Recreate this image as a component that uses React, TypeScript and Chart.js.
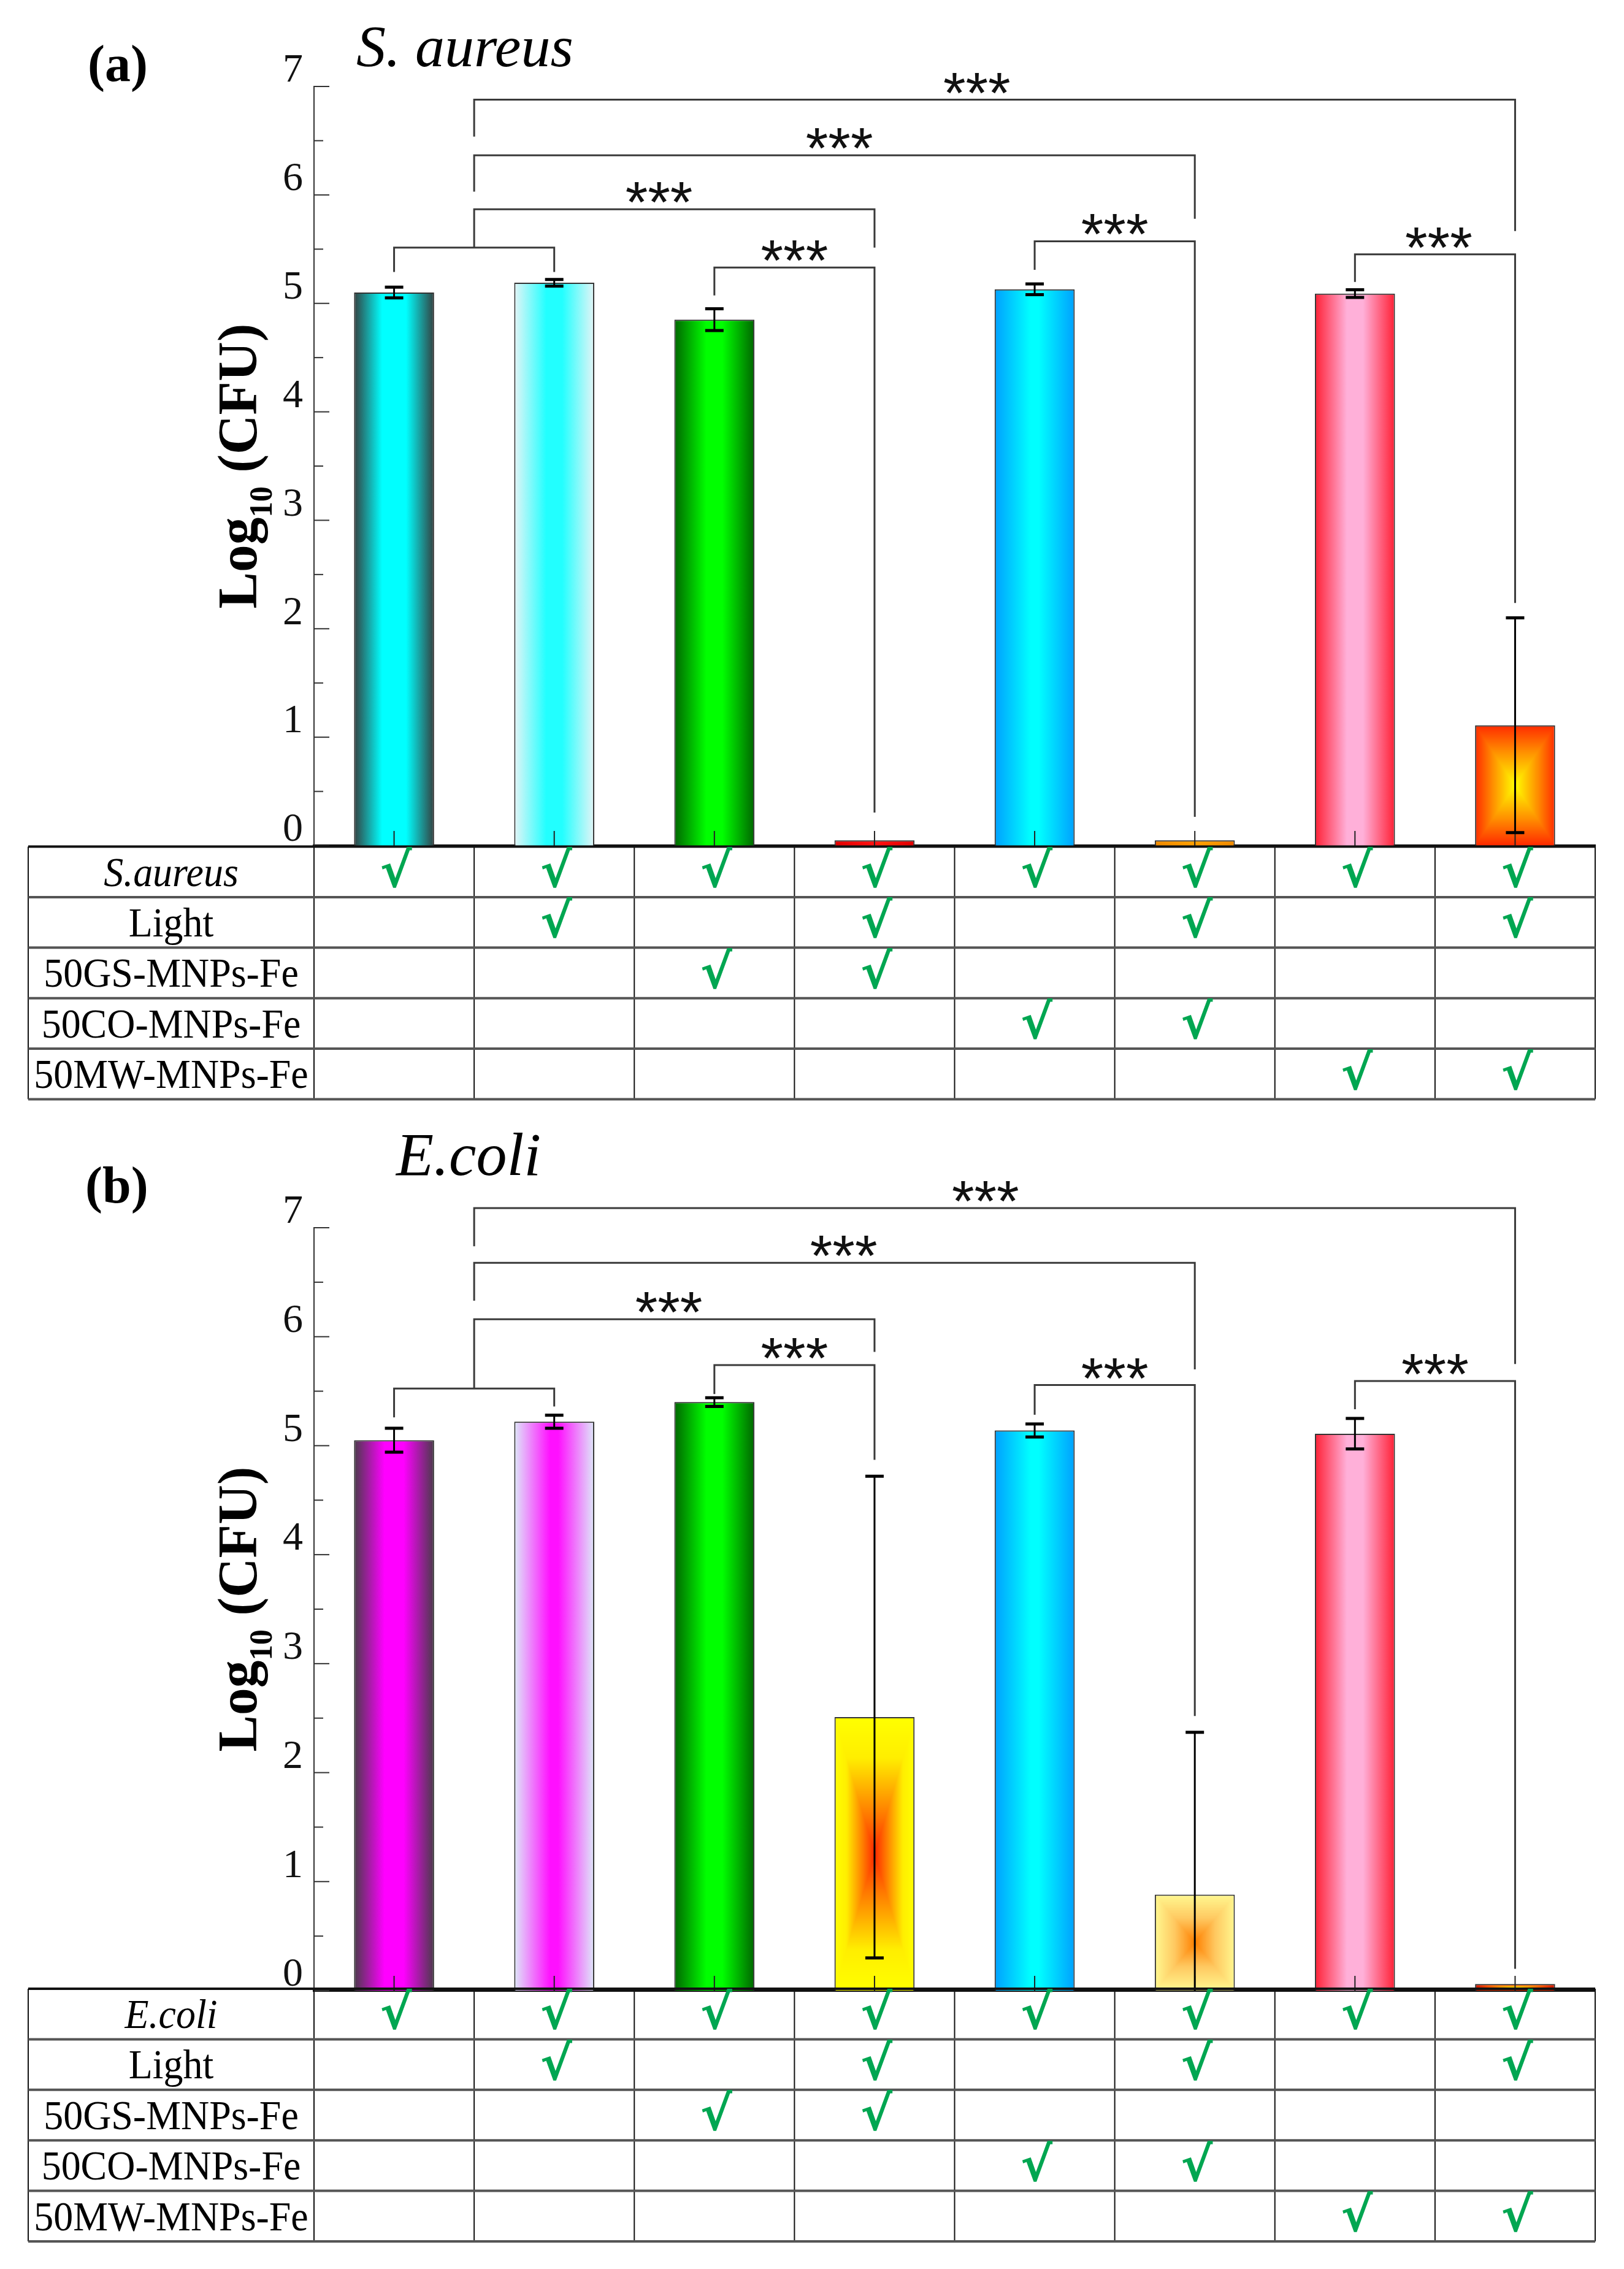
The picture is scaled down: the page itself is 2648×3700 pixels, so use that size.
import React, { useEffect, useRef } from 'react';
import { Chart, registerables } from 'chart.js';

Chart.register(...registerables);

// ---------------- data ----------------
const treatmentGroups = [
  'Bacteria',
  'Bacteria + Light',
  'Bacteria + 50GS-MNPs-Fe',
  'Bacteria + 50GS-MNPs-Fe + Light',
  'Bacteria + 50CO-MNPs-Fe',
  'Bacteria + 50CO-MNPs-Fe + Light',
  'Bacteria + 50MW-MNPs-Fe',
  'Bacteria + 50MW-MNPs-Fe + Light',
];
const yTickValues = [0, 1, 2, 3, 4, 5, 6, 7];

const saureusLog = [5.10, 5.19, 4.85, 0.05, 5.13, 0.05, 5.09, 1.11];
const saureusSd = [0.05, 0.03, 0.10, 0, 0.05, 0, 0.035, 0.99];
const ecoliLog = [5.05, 5.22, 5.40, 2.51, 5.14, 0.88, 5.11, 0.06];
const ecoliSd = [0.11, 0.06, 0.04, 2.21, 0.06, 1.49, 0.14, 0];

const tableRowLabels = ['Light', '50GS-MNPs-Fe', '50CO-MNPs-Fe', '50MW-MNPs-Fe'];
const bacteriaRow = [1, 1, 1, 1, 1, 1, 1, 1];
const lightRow = [0, 1, 0, 1, 0, 1, 0, 1];
const gsRow = [0, 0, 1, 1, 0, 0, 0, 0];
const coRow = [0, 0, 0, 0, 1, 1, 0, 0];
const mwRow = [0, 0, 0, 0, 0, 0, 1, 1];
const checkRows = [bacteriaRow, lightRow, gsRow, coRow, mwRow];

// significance brackets (group index; 0.5 = pooled controls), levels in log10 units
const saureusBrackets = [
  { from: 0, to: 1, level: 5.515, leftEnd: 5.29, rightEnd: 5.29, label: '', labelDx: 0 },
  { from: 0.5, to: 3, level: 5.868, leftEnd: 5.515, rightEnd: 5.515, label: '***', labelDx: -25 },
  { from: 2, to: 3, level: 5.33, leftEnd: 5.074, rightEnd: 0.305, label: '***', labelDx: 0 },
  { from: 0.5, to: 5, level: 6.365, leftEnd: 6.03, rightEnd: 5.78, label: '***', labelDx: 8 },
  { from: 4, to: 5, level: 5.573, leftEnd: 5.31, rightEnd: 0.266, label: '***', labelDx: 0 },
  { from: 0.5, to: 7, level: 6.878, leftEnd: 6.538, rightEnd: 5.667, label: '***', labelDx: -29 },
  { from: 6, to: 7, level: 5.452, leftEnd: 5.198, rightEnd: 2.237, label: '***', labelDx: 6 },
];
const ecoliBrackets = [
  { from: 0, to: 1, level: 5.525, leftEnd: 5.26, rightEnd: 5.36, label: '', labelDx: 0 },
  { from: 0.5, to: 3, level: 6.16, leftEnd: 5.525, rightEnd: 5.86, label: '***', labelDx: -9 },
  { from: 2, to: 3, level: 5.74, leftEnd: 5.474, rightEnd: 4.87, label: '***', labelDx: 0 },
  { from: 0.5, to: 5, level: 6.678, leftEnd: 6.33, rightEnd: 5.70, label: '***', labelDx: 15 },
  { from: 4, to: 5, level: 5.556, leftEnd: 5.284, rightEnd: 2.52, label: '***', labelDx: 0 },
  { from: 0.5, to: 7, level: 7.18, leftEnd: 6.83, rightEnd: 5.75, label: '***', labelDx: -15 },
  { from: 6, to: 7, level: 5.593, leftEnd: 5.334, rightEnd: 0.2, label: '***', labelDx: 0 },
];

// ---------------- styles ----------------
type Stop = [number, string];
type FillSpec = { kind: 'h' | 'rect'; stops: Stop[] };

const greenFill: FillSpec = { kind: 'h', stops: [[0, '#006600'], [0.4, '#00ff00'], [0.6, '#00ff00'], [1, '#006600']] };
const blueFill: FillSpec = { kind: 'h', stops: [[0, '#00a0ff'], [0.45, '#00ffff'], [0.55, '#00ffff'], [1, '#00a0ff']] };
const pinkFill: FillSpec = { kind: 'h', stops: [[0, '#ff2035'], [0.4, '#ffb0d9'], [0.6, '#ffb0d9'], [1, '#ff2035']] };

const saureusFills: FillSpec[] = [
  { kind: 'h', stops: [[0, '#334040'], [0.35, '#00ffff'], [0.65, '#00ffff'], [1, '#334040']] },
  { kind: 'h', stops: [[0, '#e4f4f6'], [0.4, '#22ffff'], [0.6, '#22ffff'], [1, '#e4f4f6']] },
  greenFill,
  { kind: 'h', stops: [[0, '#e00000'], [0.5, '#ff1010'], [1, '#e00000']] },
  blueFill,
  { kind: 'h', stops: [[0, '#f08a00'], [0.5, '#ffa000'], [1, '#f08a00']] },
  pinkFill,
  { kind: 'rect', stops: [[0, '#ffff00'], [0.55, '#ff9000'], [1, '#ff2a00']] },
];
const ecoliFills: FillSpec[] = [
  { kind: 'h', stops: [[0, '#4a3a4a'], [0.38, '#ff00ff'], [0.62, '#ff00ff'], [1, '#4a3a4a']] },
  { kind: 'h', stops: [[0, '#dde8f8'], [0.45, '#ff10ff'], [0.55, '#ff10ff'], [1, '#dde8f8']] },
  greenFill,
  { kind: 'rect', stops: [[0, '#ff2800'], [0.35, '#ff8c00'], [0.7, '#ffee00'], [1, '#ffff00']] },
  blueFill,
  { kind: 'rect', stops: [[0, '#ff8000'], [0.5, '#ffc860'], [1, '#fff890']] },
  pinkFill,
  { kind: 'rect', stops: [[0, '#ffee00'], [0.6, '#ff6000'], [1, '#cc1000']] },
];

const BAR_FRACTION = 0.5;
const TABLE_LEFT = 46;
const ROW_H = 82.4;
const SERIF = '"Liberation Serif", "Times New Roman", serif';

function hexToRgb(h: string) {
  const n = parseInt(h.slice(1), 16);
  return [(n >> 16) & 255, (n >> 8) & 255, n & 255];
}

function makeFill(ctx: CanvasRenderingContext2D, spec: FillSpec, left: number, top: number, w: number, h: number): any {
  const mid = spec.stops[Math.floor(spec.stops.length / 2)][1];
  if (![left, top, w, h].every(Number.isFinite) || w <= 0 || h <= 0 || w > 3000 || h > 3000) return mid;
  if (spec.kind === 'h') {
    const g = ctx.createLinearGradient(left, 0, left + w, 0);
    spec.stops.forEach(([t, c]) => g.addColorStop(t, c));
    return g;
  }
  const W = Math.max(1, Math.round(w));
  const H = Math.max(1, Math.round(h));
  const off = document.createElement('canvas');
  off.width = W;
  off.height = H;
  const octx = off.getContext('2d')!;
  const img = octx.createImageData(W, H);
  const rgb = spec.stops.map(([t, c]) => [t, hexToRgb(c)] as [number, number[]]);
  for (let y = 0; y < H; y++) {
    for (let x = 0; x < W; x++) {
      const t = Math.min(1, Math.max(Math.abs(x + 0.5 - W / 2) / (W / 2), Math.abs(y + 0.5 - H / 2) / (H / 2)));
      let k = 0;
      while (k < rgb.length - 2 && t > rgb[k + 1][0]) k++;
      const t0 = rgb[k][0];
      const c0 = rgb[k][1];
      const t1 = rgb[k + 1][0];
      const c1 = rgb[k + 1][1];
      const f = t1 > t0 ? Math.min(1, Math.max(0, (t - t0) / (t1 - t0))) : 0;
      const o = (y * W + x) * 4;
      img.data[o] = c0[0] + (c1[0] - c0[0]) * f;
      img.data[o + 1] = c0[1] + (c1[1] - c0[1]) * f;
      img.data[o + 2] = c0[2] + (c1[2] - c0[2]) * f;
      img.data[o + 3] = 255;
    }
  }
  octx.putImageData(img, 0, 0);
  const p = ctx.createPattern(off, 'no-repeat');
  if (!p) return mid;
  p.setTransform(new DOMMatrix([1, 0, 0, 1, left, top]));
  return p;
}

type Bracket = { from: number; to: number; level: number; leftEnd: number; rightEnd: number; label: string; labelDx: number };
type PanelCfg = {
  top: number;
  height: number;
  padTop: number;
  xAxisHeight: number;
  letter: string;
  letterX: number;
  letterBaseline: number;
  title: string;
  titleX: number;
  titleBaseline: number;
  titleSize: number;
  bacteria: string;
  tableTop: number;
  means: number[];
  sd: number[];
  fills: FillSpec[];
  brackets: Bracket[];
};

const panelA: PanelCfg = {
  top: 0, height: 1830, padTop: 141, xAxisHeight: 451,
  letter: '(a)', letterX: 143, letterBaseline: 132,
  title: 'S. aureus', titleX: 581, titleBaseline: 108, titleSize: 96,
  bacteria: 'S.aureus', tableTop: 1380.5,
  means: saureusLog, sd: saureusSd, fills: saureusFills, brackets: saureusBrackets,
};
const panelB: PanelCfg = {
  top: 1830, height: 1870, padTop: 172, xAxisHeight: 454,
  letter: '(b)', letterX: 139, letterBaseline: 131,
  title: 'E.coli', titleX: 646, titleBaseline: 86, titleSize: 100,
  bacteria: 'E.coli', tableTop: 1413,
  means: ecoliLog, sd: ecoliSd, fills: ecoliFills, brackets: ecoliBrackets,
};

function Panel({ cfg }: { cfg: PanelCfg }) {
  const ref = useRef<HTMLCanvasElement>(null);
  useEffect(() => {
    const canvas = ref.current;
    if (!canvas) return;
    let filled = false;
    const decor = {
      id: 'decor',
      beforeDatasetsDraw(chart: any) {
        if (filled) return;
        const meta = chart.getDatasetMeta(0);
        meta.data.forEach((el: any, i: number) => {
          const p = el.getProps(['x', 'y', 'base', 'width'], true);
          const top = Math.min(p.y, p.base);
          const h = Math.abs(p.base - p.y);
          el.options.backgroundColor = makeFill(chart.ctx, cfg.fills[i], p.x - p.width / 2, top, p.width, h);
        });
        filled = true;
      },
      afterDatasetsDraw(chart: any) {
        const ctx: CanvasRenderingContext2D = chart.ctx;
        const xs = chart.scales.x;
        const ys = chart.scales.y;
        const area = chart.chartArea;
        ctx.save();
        ctx.strokeStyle = '#222';
        ctx.lineWidth = 2;
        treatmentGroups.forEach((_, i) => {
          const x = xs.getPixelForValue(i);
          ctx.beginPath();
          ctx.moveTo(x, area.bottom);
          ctx.lineTo(x, area.bottom - 24);
          ctx.stroke();
        });
        ctx.strokeStyle = '#333';
        for (let k = 0; k < yTickValues.length; k++) {
          const v = yTickValues[k];
          const y = ys.getPixelForValue(v);
          ctx.beginPath();
          ctx.moveTo(area.left, y);
          ctx.lineTo(area.left + 25, y);
          ctx.stroke();
          if (k < yTickValues.length - 1) {
            const ym = ys.getPixelForValue((v + yTickValues[k + 1]) / 2);
            ctx.beginPath();
            ctx.moveTo(area.left, ym);
            ctx.lineTo(area.left + 15, ym);
            ctx.stroke();
          }
        }
        ctx.strokeStyle = '#000';
        cfg.means.forEach((m, i) => {
          const e = cfg.sd[i];
          if (!e) return;
          const x = xs.getPixelForValue(i);
          const yTop = ys.getPixelForValue(m + e);
          const low = m - e;
          const yBot = ys.getPixelForValue(Math.max(0, low));
          ctx.lineWidth = 3;
          ctx.beginPath();
          ctx.moveTo(x, yTop);
          ctx.lineTo(x, yBot);
          ctx.stroke();
          ctx.lineWidth = 5;
          ctx.beginPath();
          ctx.moveTo(x - 15, yTop);
          ctx.lineTo(x + 15, yTop);
          if (low >= 0) {
            ctx.moveTo(x - 15, yBot);
            ctx.lineTo(x + 15, yBot);
          }
          ctx.stroke();
        });
        ctx.restore();
      },
      afterDraw(chart: any) {
        const ctx: CanvasRenderingContext2D = chart.ctx;
        const xs = chart.scales.x;
        const ys = chart.scales.y;
        const area = chart.chartArea;
        ctx.save();
        ctx.strokeStyle = '#3a3a3a';
        ctx.lineWidth = 3;
        ctx.font = `94px "Liberation Sans", Arial, sans-serif`;
        ctx.fillStyle = '#111';
        ctx.textAlign = 'center';
        ctx.textBaseline = 'alphabetic';
        cfg.brackets.forEach((b) => {
          const x1 = xs.getPixelForValue(b.from);
          const x2 = xs.getPixelForValue(b.to);
          const y = ys.getPixelForValue(b.level);
          ctx.beginPath();
          ctx.moveTo(x1, ys.getPixelForValue(b.leftEnd));
          ctx.lineTo(x1, y);
          ctx.lineTo(x2, y);
          ctx.lineTo(x2, ys.getPixelForValue(b.rightEnd));
          ctx.stroke();
          if (b.label) {
            const m = ctx.measureText(b.label);
            const d = Number.isFinite(m.actualBoundingBoxDescent) ? m.actualBoundingBoxDescent : -30;
            ctx.fillText(b.label, (x1 + x2) / 2 + b.labelDx, y - 10 - d);
          }
        });

        ctx.textAlign = 'left';
        ctx.fillStyle = '#000';
        ctx.font = `bold 84px ${SERIF}`;
        ctx.fillText(cfg.letter, cfg.letterX, cfg.letterBaseline);
        ctx.font = `italic ${cfg.titleSize}px ${SERIF}`;
        ctx.fillText(cfg.title, cfg.titleX, cfg.titleBaseline);

        ctx.save();
        ctx.translate(area.left - 94, (area.top + area.bottom) / 2);
        ctx.rotate(-Math.PI / 2);
        const big = `bold 92px ${SERIF}`;
        const small = `bold 52px ${SERIF}`;
        ctx.font = big;
        const w1 = ctx.measureText('Log').width;
        const w3 = ctx.measureText(' (CFU)').width;
        ctx.font = small;
        const w2 = ctx.measureText('10').width;
        const total = w1 + w2 + w3;
        if (total > 0) ctx.scale(465 / total, 1);
        let tx = -total / 2;
        ctx.font = big;
        ctx.fillText('Log', tx, 0);
        tx += w1;
        ctx.font = small;
        ctx.fillText('10', tx, 25);
        tx += w2;
        ctx.font = big;
        ctx.fillText(' (CFU)', tx, 0);
        ctx.restore();

        const t0 = cfg.tableTop;
        const nRows = checkRows.length;
        const bounds = [TABLE_LEFT, area.left];
        for (let i = 0; i < treatmentGroups.length - 1; i++) bounds.push(xs.getPixelForValue(i + 0.5));
        bounds.push(area.right);
        ctx.strokeStyle = '#111';
        ctx.lineWidth = 2;
        bounds.forEach((bx) => {
          ctx.beginPath();
          ctx.moveTo(bx, t0);
          ctx.lineTo(bx, t0 + nRows * ROW_H);
          ctx.stroke();
        });
        for (let k = 0; k <= nRows; k++) {
          const y = t0 + k * ROW_H;
          ctx.strokeStyle = k === 0 ? '#111' : '#555';
          ctx.lineWidth = 4;
          ctx.beginPath();
          ctx.moveTo(TABLE_LEFT, y);
          ctx.lineTo(area.right, y);
          ctx.stroke();
        }
        const labels = [cfg.bacteria, ...tableRowLabels];
        const labelCx = (TABLE_LEFT + area.left) / 2;
        ctx.textAlign = 'center';
        ctx.textBaseline = 'alphabetic';
        ctx.fillStyle = '#000';
        labels.forEach((lab, r) => {
          ctx.font = `${r === 0 ? 'italic ' : ''}68px ${SERIF}`;
          const w = ctx.measureText(lab).width;
          ctx.fillText(lab, labelCx, t0 + r * ROW_H + 64, Math.max(1, w * 0.94));
        });
        ctx.font = `bold 78px "DejaVu Sans", sans-serif`;
        ctx.fillStyle = '#00a651';
        ctx.textBaseline = 'middle';
        checkRows.forEach((row, r) => {
          row.forEach((on, i) => {
            if (!on) return;
            ctx.fillText('\u221A', xs.getPixelForValue(i) + 3, t0 + r * ROW_H + ROW_H / 2 + 4);
          });
        });
        ctx.restore();
      },
    };

    const chart = new Chart(canvas, {
      type: 'bar',
      data: {
        labels: treatmentGroups,
        datasets: [
          {
            data: cfg.means,
            backgroundColor: (c: any) => {
              const spec = cfg.fills[c.dataIndex] || cfg.fills[0];
              return spec.stops[Math.floor(spec.stops.length / 2)][1];
            },
            borderColor: '#333',
            borderWidth: 2,
            barPercentage: BAR_FRACTION,
            categoryPercentage: 1,
          },
        ],
      },
      options: {
        responsive: false,
        maintainAspectRatio: false,
        animation: false,
        devicePixelRatio: 1,
        events: [],
        layout: { padding: { top: cfg.padTop, left: 0, right: 47, bottom: 0 } },
        plugins: { legend: { display: false }, tooltip: { enabled: false }, title: { display: false } },
        scales: {
          x: {
            type: 'category',
            offset: true,
            grid: { display: false, drawTicks: false },
            border: { display: true, color: '#111', width: 4 },
            ticks: { display: false },
            afterFit: (s: any) => {
              s.height = cfg.xAxisHeight;
            },
          },
          y: {
            type: 'linear',
            min: yTickValues[0],
            max: yTickValues[yTickValues.length - 1],
            ticks: {
              stepSize: 1,
              autoSkip: false,
              padding: 18,
              labelOffset: -25,
              color: '#111',
              font: { family: SERIF, size: 66 },
            },
            grid: { display: false, drawTicks: false },
            border: { display: true, color: '#333', width: 2 },
            afterFit: (s: any) => {
              s.width = 512;
            },
          },
        },
      },
      plugins: [decor],
    } as any);
    return () => chart.destroy();
  }, []);
  return (
    <canvas
      ref={ref}
      width={2648}
      height={cfg.height}
      style={{ position: 'absolute', left: 0, top: cfg.top, width: 2648, height: cfg.height, display: 'block' }}
    />
  );
}

export default function App() {
  return (
    <div style={{ position: 'absolute', left: 0, top: 0, width: 2648, height: 3700, background: '#fff', overflow: 'hidden' }}>
      <Panel cfg={panelA} />
      <Panel cfg={panelB} />
    </div>
  );
}
